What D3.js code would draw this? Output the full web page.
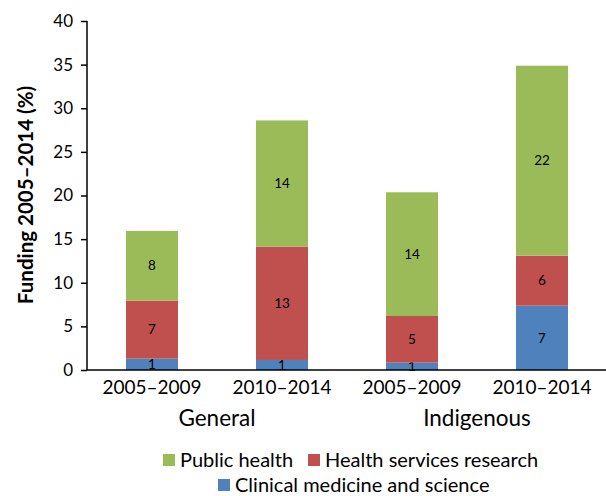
<!DOCTYPE html>
<html><head><meta charset="utf-8">
<script src="https://cdn.jsdelivr.net/npm/d3@7"></script>
<style>body{margin:0;background:#fff}text{font-family:Lato,"Open Sans",sans-serif}</style>
</head><body>
<svg id="c" width="606" height="496"></svg>
<script>
const categories = ["2005–2009","2010–2014","2005–2009","2010–2014"];
const groups = ["General","Indigenous"];
const seriesNames = ["Clinical medicine and science","Health services research","Public health"];
const clinical = [1.3, 1.15, 0.84, 7.37];
const healthServices = [6.65, 13.0, 5.35, 5.73];
const publicHealth = [8.0, 14.45, 14.18, 21.78];
const clinicalLabels = ["1","1","1","7"];
const healthServicesLabels = ["7","13","5","6"];
const publicHealthLabels = ["8","14","14","22"];
const yTicks = [0,5,10,15,20,25,30,35,40];
const colors = ["#4F81BD","#C0504D","#9BBB59"];

const svg = d3.select("#c");
const x = d3.scaleBand().domain(d3.range(categories.length)).range([87,607]).paddingInner(0.6).paddingOuter(0.3);
const y = d3.scaleLinear().domain([0,40]).range([370,21]);

const labels = [clinicalLabels, healthServicesLabels, publicHealthLabels];
const rows = categories.map((c,i)=>({i, v0:clinical[i], v1:healthServices[i], v2:publicHealth[i]}));
const stack = d3.stack().keys(["v0","v1","v2"])(rows);

stack.forEach((layer,k)=>{
  const g = svg.append("g");
  g.selectAll("rect").data(layer).join("rect")
    .attr("x", d=>x(d.data.i)).attr("width", x.bandwidth())
    .attr("y", d=>y(d[1])).attr("height", d=>y(d[0])-y(d[1]))
    .attr("fill", colors[k]);
  g.selectAll("text").data(layer).join("text")
    .attr("x", d=>x(d.data.i)+x.bandwidth()/2)
    .attr("y", d=>(y(d[0])+y(d[1]))/2)
    .attr("dy","0.35em").attr("text-anchor","middle")
    .attr("font-size",13.5).attr("fill","#000")
    .text((d,j)=>labels[k][j]);
});

// y axis
const ya = svg.append("g").attr("transform","translate(87,0)")
  .call(d3.axisLeft(y).tickValues(yTicks).tickSize(6).tickPadding(8));
ya.select(".domain").attr("stroke","#000").attr("stroke-width",1.5).attr("d","M0,"+y(40)+"V"+y(0));
ya.selectAll(".tick line").attr("stroke","#000").attr("stroke-width",1.5);
ya.selectAll(".tick text").attr("font-size",17).attr("fill","#000").attr("font-family","Lato");

// x axis
const xa = svg.append("g").attr("transform","translate(0,370)")
  .call(d3.axisBottom(x).tickSize(0).tickPadding(11).tickFormat(i=>categories[i]));
xa.select(".domain").attr("stroke","#000").attr("stroke-width",1.5).attr("d","M87,0H606");
xa.selectAll(".tick text").attr("font-size",19).attr("fill","#000").attr("font-family","Lato");

// group labels
groups.forEach((gname,gi)=>{
  const cx = (x(gi*2)+x(gi*2+1)+x.bandwidth())/2;
  svg.append("text").attr("x",cx).attr("y",426).attr("text-anchor","middle")
    .attr("font-size",22.5).attr("fill","#000").text(gname);
});

// y title
svg.append("text").attr("transform","translate(33,195) rotate(-90)")
  .attr("text-anchor","middle").attr("font-size",20.5).attr("font-weight","bold").attr("fill","#000")
  .text("Funding 2005–2014 (%)");

// legend
const legendItems = [
  {k:2, x:163, y:467},
  {k:1, x:308, y:467},
  {k:0, x:218, y:492}
];
legendItems.forEach(it=>{
  svg.append("rect").attr("x",it.x).attr("y",it.y-13).attr("width",12).attr("height",12).attr("fill",colors[it.k]);
  svg.append("text").attr("x",it.x+17).attr("y",it.y).attr("font-size",20).attr("fill","#000").text(seriesNames[it.k]);
});
</script>
</body></html>
